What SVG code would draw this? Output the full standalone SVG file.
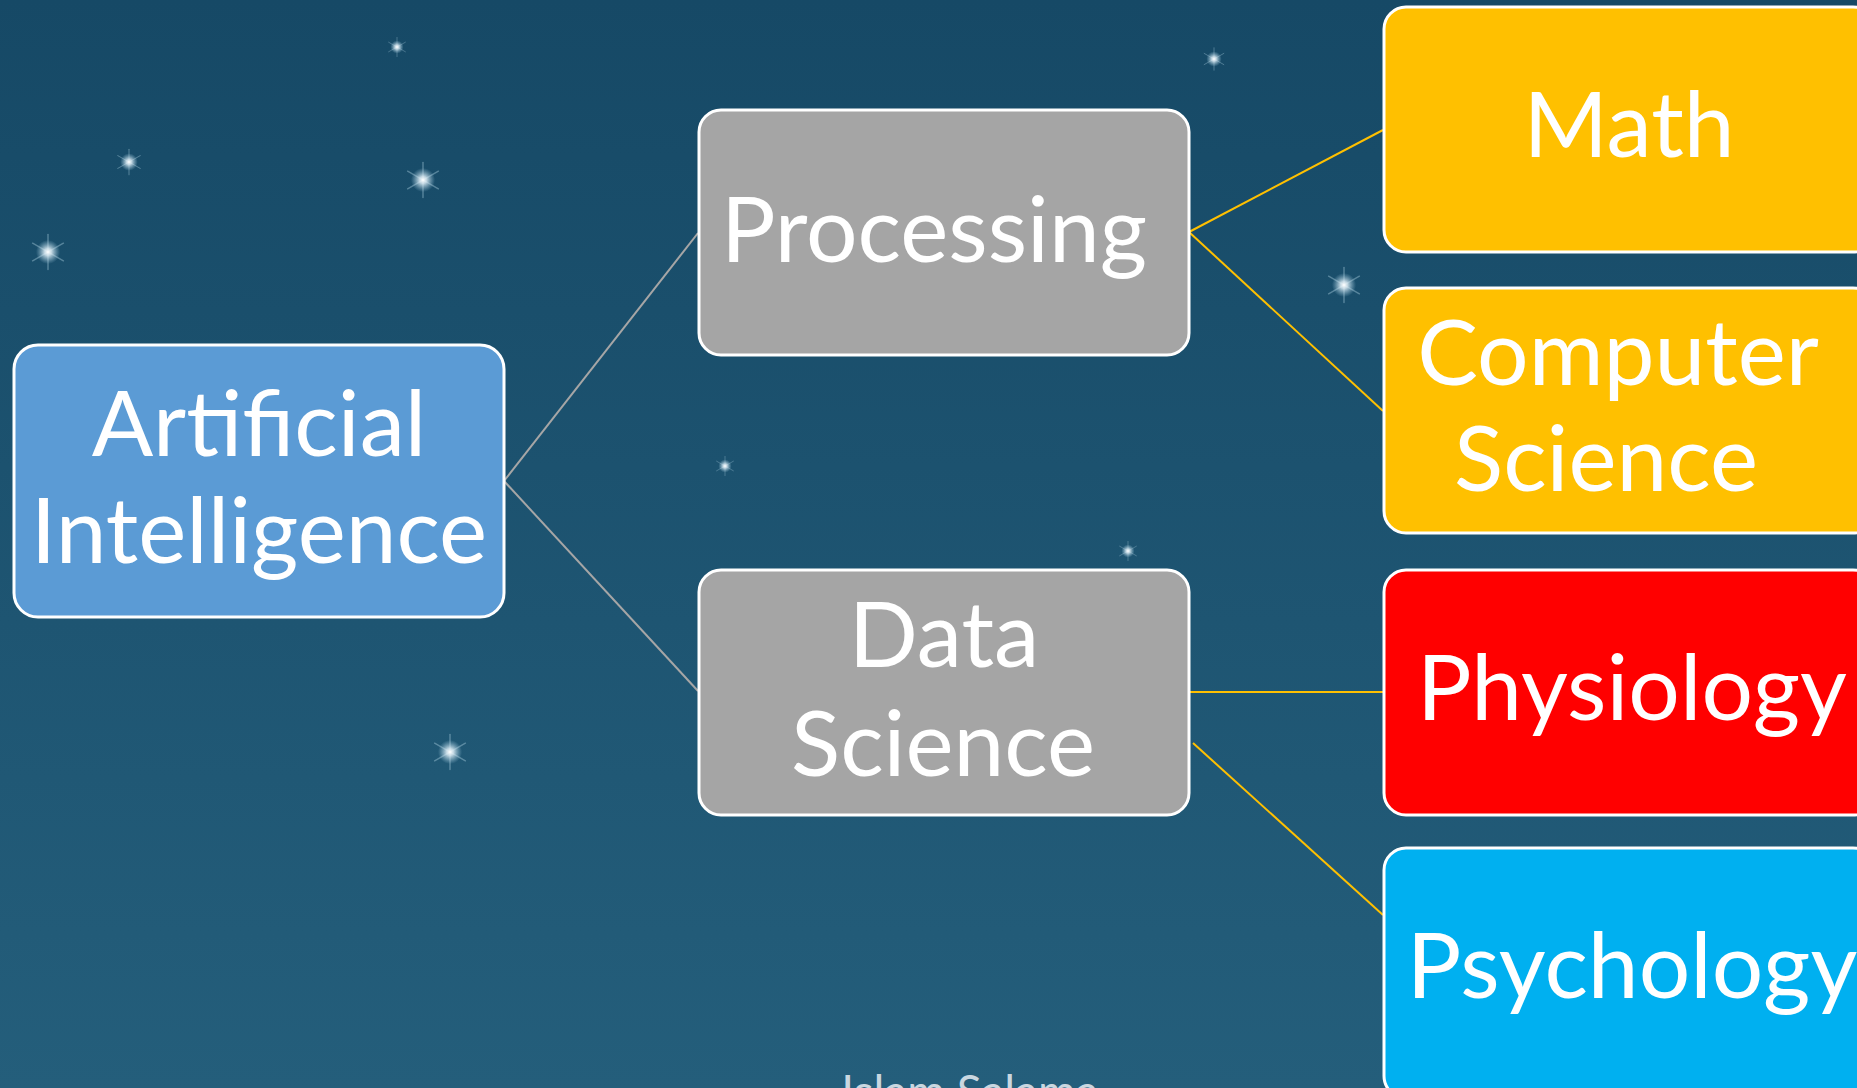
<svg xmlns="http://www.w3.org/2000/svg" width="1857" height="1088" viewBox="0 0 1857 1088">
<defs>
<linearGradient id="bg" x1="0" y1="0" x2="0" y2="1">
<stop offset="0" stop-color="#164966"/>
<stop offset="1" stop-color="#245e7b"/>
</linearGradient>
<radialGradient id="glow">
<stop offset="0" stop-color="#ffffff" stop-opacity="1"/>
<stop offset="0.3" stop-color="#dfeef6" stop-opacity="0.85"/>
<stop offset="1" stop-color="#9cc7dc" stop-opacity="0"/>
</radialGradient>
<g id="star">
<g stroke="#b5d6e6" stroke-width="1.3" stroke-opacity="0.4" stroke-linecap="round">
<line x1="0" y1="-16" x2="0" y2="16"/>
<line x1="-14" y1="-8" x2="14" y2="8"/>
<line x1="-14" y1="8" x2="14" y2="-8"/>
</g>
<circle r="11" fill="url(#glow)"/>
</g>
</defs>
<style>
.box{stroke:#ffffff;stroke-width:3}
.lbl{font-family:Lato,"Noto Sans","Liberation Sans",sans-serif;font-size:91px;fill:#ffffff;text-anchor:middle}
.grey{stroke:#a6a6a6;stroke-width:2;fill:none}
.gold{stroke:#ffc000;stroke-width:2;fill:none}
</style>
<rect width="1857" height="1088" fill="url(#bg)"/>
<g id="stars">
<use href="#star" transform="translate(397,47) scale(0.6)"/>
<use href="#star" transform="translate(129,162) scale(0.8)"/>
<use href="#star" transform="translate(423,180) scale(1.1)"/>
<use href="#star" transform="translate(48,252) scale(1.1)"/>
<use href="#star" transform="translate(1214,59) scale(0.7)"/>
<use href="#star" transform="translate(1344,285) scale(1.1)"/>
<use href="#star" transform="translate(725,466) scale(0.6)"/>
<use href="#star" transform="translate(1128,551) scale(0.6)"/>
<use href="#star" transform="translate(450,752) scale(1.1)"/>
</g>
<g id="connectors">
<line class="grey" x1="504" y1="481" x2="698" y2="233"/>
<line class="grey" x1="504" y1="481" x2="698" y2="691"/>
<line class="gold" x1="1189" y1="232" x2="1383" y2="130"/>
<line class="gold" x1="1189" y1="232" x2="1383" y2="411"/>
<line class="gold" x1="1189" y1="692" x2="1383" y2="692"/>
<line class="gold" x1="1193" y1="743" x2="1383" y2="915"/>
</g>
<g id="ai">
<rect class="box" x="14" y="345" width="490" height="272" rx="24" fill="#5b9bd5"/>
<text class="lbl" x="259" y="456">Artificial</text>
<text class="lbl" x="259" y="563">Intelligence</text>
</g>
<g id="processing">
<rect class="box" x="699" y="110" width="490" height="245" rx="22" fill="#a5a5a5"/>
<text class="lbl" x="934" y="262">Processing</text>
</g>
<g id="datascience">
<rect class="box" x="699" y="570" width="490" height="245" rx="22" fill="#a5a5a5"/>
<text class="lbl" x="944" y="667">Data</text>
<text class="lbl" x="943" y="776">Science</text>
</g>
<g id="math">
<rect class="box" x="1384" y="7" width="491" height="245" rx="22" fill="#ffc000"/>
<text class="lbl" x="1629" y="157">Math</text>
</g>
<g id="cs">
<rect class="box" x="1384" y="288" width="491" height="245" rx="22" fill="#ffc000"/>
<text class="lbl" x="1618" y="385">Computer</text>
<text class="lbl" x="1606" y="491">Science</text>
</g>
<g id="physiology">
<rect class="box" x="1384" y="570" width="491" height="245" rx="22" fill="#ff0000"/>
<text class="lbl" x="1632" y="720">Physiology</text>
</g>
<g id="psychology">
<rect class="box" x="1384" y="848" width="491" height="250" rx="22" fill="#00b0f0"/>
<text class="lbl" x="1632" y="998">Psychology</text>
</g>
<text x="970" y="1108" font-family="Lato,'Noto Sans',sans-serif" font-size="46" fill="#c9d7e0" text-anchor="middle">Islam Salama</text>
</svg>
